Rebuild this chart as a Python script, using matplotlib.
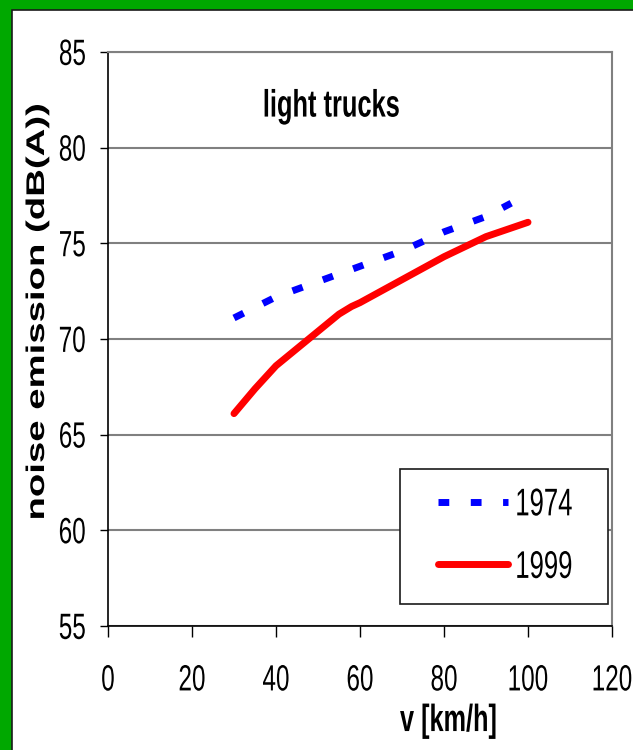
import matplotlib
matplotlib.use("Agg")
import matplotlib.pyplot as plt
from matplotlib.patches import Rectangle
from matplotlib.patheffects import AbstractPathEffect
from matplotlib.transforms import Affine2D

# speed (km/h) and noise emission (dB(A))
v_1974 = [30, 40, 50, 60, 70, 80, 90, 96]
db_1974 = [71.1, 72.2, 73.0, 73.8, 74.6, 75.6, 76.4, 77.1]
v_1999 = [30, 35, 40, 45, 50, 55, 58, 60, 70, 80, 90, 100]
db_1999 = [66.1, 67.4, 68.6, 69.5, 70.4, 71.3, 71.7, 71.9, 73.1, 74.3, 75.35, 76.1]
x_ticks = [0, 20, 40, 60, 80, 100, 120]
y_ticks = [55, 60, 65, 70, 75, 80, 85]

FONT = ['Liberation Sans', 'DejaVu Sans']


class Stretch(AbstractPathEffect):
    """Draw text glyphs stretched (the source slide is squashed/tall)."""

    def __init__(self, sx=1.0, sy=1.0):
        super().__init__()
        self.sx, self.sy = sx, sy

    def draw_path(self, renderer, gc, tpath, affine, rgbFace=None):
        ext = tpath.get_extents()
        cx = (ext.x0 + ext.x1) / 2 if self.sx != 1 else 0
        cy = 36 if self.sy != 1 else 0
        t = Affine2D().translate(-cx, -cy).scale(self.sx, self.sy).translate(cx, cy)
        renderer.draw_path(gc, tpath, t + affine, rgbFace)


TALL = [Stretch(sy=1.5)]

W, H = 633, 750
fig = plt.figure(figsize=(W / 100, H / 100), dpi=100, facecolor='#00a800')
# white slide panel with thin dark edge
fig.patches.append(Rectangle((12 / W, -0.01), 1.0, 1 - 10 / H + 0.01,
                             transform=fig.transFigure, facecolor='white',
                             edgecolor='#1a1a1a', linewidth=1.2, zorder=-5))

ax = fig.add_axes([108 / W, (H - 626) / H, 504 / W, 574 / H])
ax.set_zorder(2)
ax.set_facecolor('none')
ax.set_xlim(0, 120)
ax.set_ylim(55, 85)
ax.set_xticks(x_ticks)
ax.set_yticks(y_ticks)
ax.grid(axis='y', color='#808080', linewidth=1.5)
ax.set_axisbelow(True)
for s in ('top', 'right'):
    ax.spines[s].set_color('#808080')
    ax.spines[s].set_linewidth(1.5)
for s in ('left', 'bottom'):
    ax.spines[s].set_color('black')
    ax.spines[s].set_linewidth(1.2)
ax.tick_params(axis='y', direction='out', length=6, width=1, pad=10)
ax.tick_params(axis='x', direction='out', length=8, width=1, pad=23)
for lab in ax.get_xticklabels() + ax.get_yticklabels():
    lab.set_family(FONT)
    lab.set_fontsize(17.5)
    lab.set_path_effects(TALL)

ax.plot(v_1974, db_1974, color='#0000ff', linewidth=5, dashes=(1.55, 3.1),
        dash_capstyle='butt', label='1974')
ax.plot(v_1999, db_1999, color='#ff0000', linewidth=5,
        solid_capstyle='round', solid_joinstyle='round', label='1999')

ax.text(53.1, 82.23, 'light trucks', ha='center', va='center',
        family=FONT, fontweight='bold', fontsize=18.3, path_effects=TALL)

ax.set_xlabel('v [km/h]', family=FONT, fontweight='bold', fontsize=18.2,
              va='center', path_effects=TALL)
ax.xaxis.set_label_coords((448.5 - 108) / 504, (626 - 719.5) / 574)
ax.set_ylabel('noise emission (dB(A))', family=FONT, fontweight='bold',
              fontsize=18.4, va='center', path_effects=[Stretch(sx=1.5)])
ax.yaxis.set_label_coords((37 - 108) / 504, (626 - 312) / 574)

# legend box
bx0, bx1, by0, by1 = 400, 608, 469, 604
ax.add_patch(Rectangle(((bx0 - 108) / 504, (626 - by1) / 574),
                       (bx1 - bx0) / 504, (by1 - by0) / 574,
                       transform=ax.transAxes, facecolor='white',
                       edgecolor='#1a1a1a', linewidth=1.2, zorder=4))
leg = ax.legend(loc='center', bbox_to_anchor=((505.5 - 108) / 504,
                                             (626 - 535) / 574),
                frameon=False, prop={'family': FONT, 'size': 18.5},
                handlelength=2.73, handletextpad=0.27, labelspacing=1.5)
leg.set_zorder(5)
for t in leg.get_texts():
    t.set_path_effects(TALL)

fig.savefig('out.png', dpi=100, facecolor=fig.get_facecolor())
